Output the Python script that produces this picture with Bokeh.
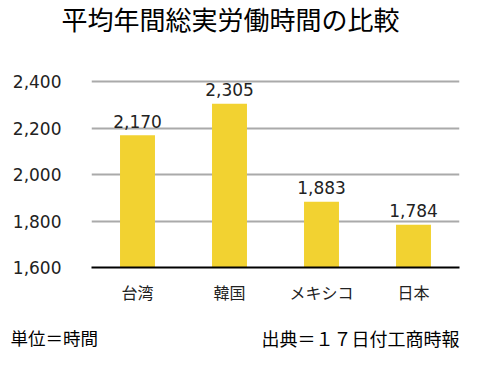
from bokeh.plotting import figure
from bokeh.models import ColumnDataSource, NumeralTickFormatter, FixedTicker, Range1d
from bokeh.layouts import column
from bokeh.core.properties import value
from bokeh.embed import file_html
from bokeh.resources import INLINE

countries = ["台湾", "韓国", "メキシコ", "日本"]
hours = [2170, 2305, 1883, 1784]
hour_labels = ["2,170", "2,305", "1,883", "1,784"]
y_ticks = [1600, 1800, 2000, 2200, 2400]
title_text = "平均年間総実労働時間の比較"
unit_text = "単位＝時間"
source_text = "出典＝１７日付工商時報"

CJK = "Noto Sans CJK JP"
NUM = "DejaVu Sans"
W = 478


def text_panel(h):
    f = figure(width=W, height=h, x_range=Range1d(0, W), y_range=Range1d(0, h),
               output_backend="svg", toolbar_location=None,
               x_axis_location=None, y_axis_location=None,
               min_border=0, min_border_left=0, min_border_right=0,
               min_border_top=0, min_border_bottom=0, frame_align=False)
    f.outline_line_color = None
    f.xgrid.visible = False
    f.ygrid.visible = False
    return f


# title
top = text_panel(40)
top.text(x=[230], y=[22], text=[title_text], text_align="center", text_baseline="middle",
         text_font=value(CJK), text_font_size="26px", text_color="black")

# main chart
src = ColumnDataSource(dict(country=countries, hours=hours, label=hour_labels))

p = figure(x_range=countries, y_range=Range1d(1600, 2410), width=W, height=278,
           output_backend="svg", toolbar_location=None,
           min_border_left=91, min_border_right=19, min_border_top=39, min_border_bottom=51)
p.outline_line_color = None
p.background_fill_color = "white"

p.vbar(x="country", top="hours", bottom=1600, width=0.38, source=src,
       fill_color="#F2D231", line_color=None)

p.text(x="country", y="hours", text="label", source=src, text_align="center",
       text_baseline="alphabetic", y_offset=-14, text_font=value(NUM),
       text_font_size="17px", text_color="#222222")

p.yaxis.ticker = FixedTicker(ticks=y_ticks)
p.yaxis.formatter = NumeralTickFormatter(format="0,0")
p.yaxis.axis_line_color = None
p.yaxis.major_tick_line_color = None
p.yaxis.minor_tick_line_color = None
p.yaxis.major_label_standoff = 24
p.yaxis.major_label_text_font = NUM
p.yaxis.major_label_text_font_size = "17px"
p.yaxis.major_label_text_color = "#222222"

p.xaxis.axis_line_color = "black"
p.xaxis.axis_line_width = 2
p.xaxis.major_tick_line_color = None
p.xaxis.minor_tick_line_color = None
p.xaxis.major_label_standoff = 6
p.xaxis.major_label_text_font = CJK
p.xaxis.major_label_text_font_size = "16px"
p.xaxis.major_label_text_color = "#222222"

p.xgrid.grid_line_color = None
p.ygrid.grid_line_color = "#AAAAAA"
p.ygrid.grid_line_width = 2

# footer
foot = text_panel(41)
foot.text(x=[10], y=[22], text=[unit_text], text_align="left", text_baseline="middle",
          text_font=value(CJK), text_font_size="17.5px", text_color="black")
foot.text(x=[459], y=[22], text=[source_text], text_align="right", text_baseline="middle",
          text_font=value(CJK), text_font_size="18px", text_color="black")

layout = column(top, p, foot, spacing=0)
open("out.html", "w").write(file_html(layout, INLINE))
